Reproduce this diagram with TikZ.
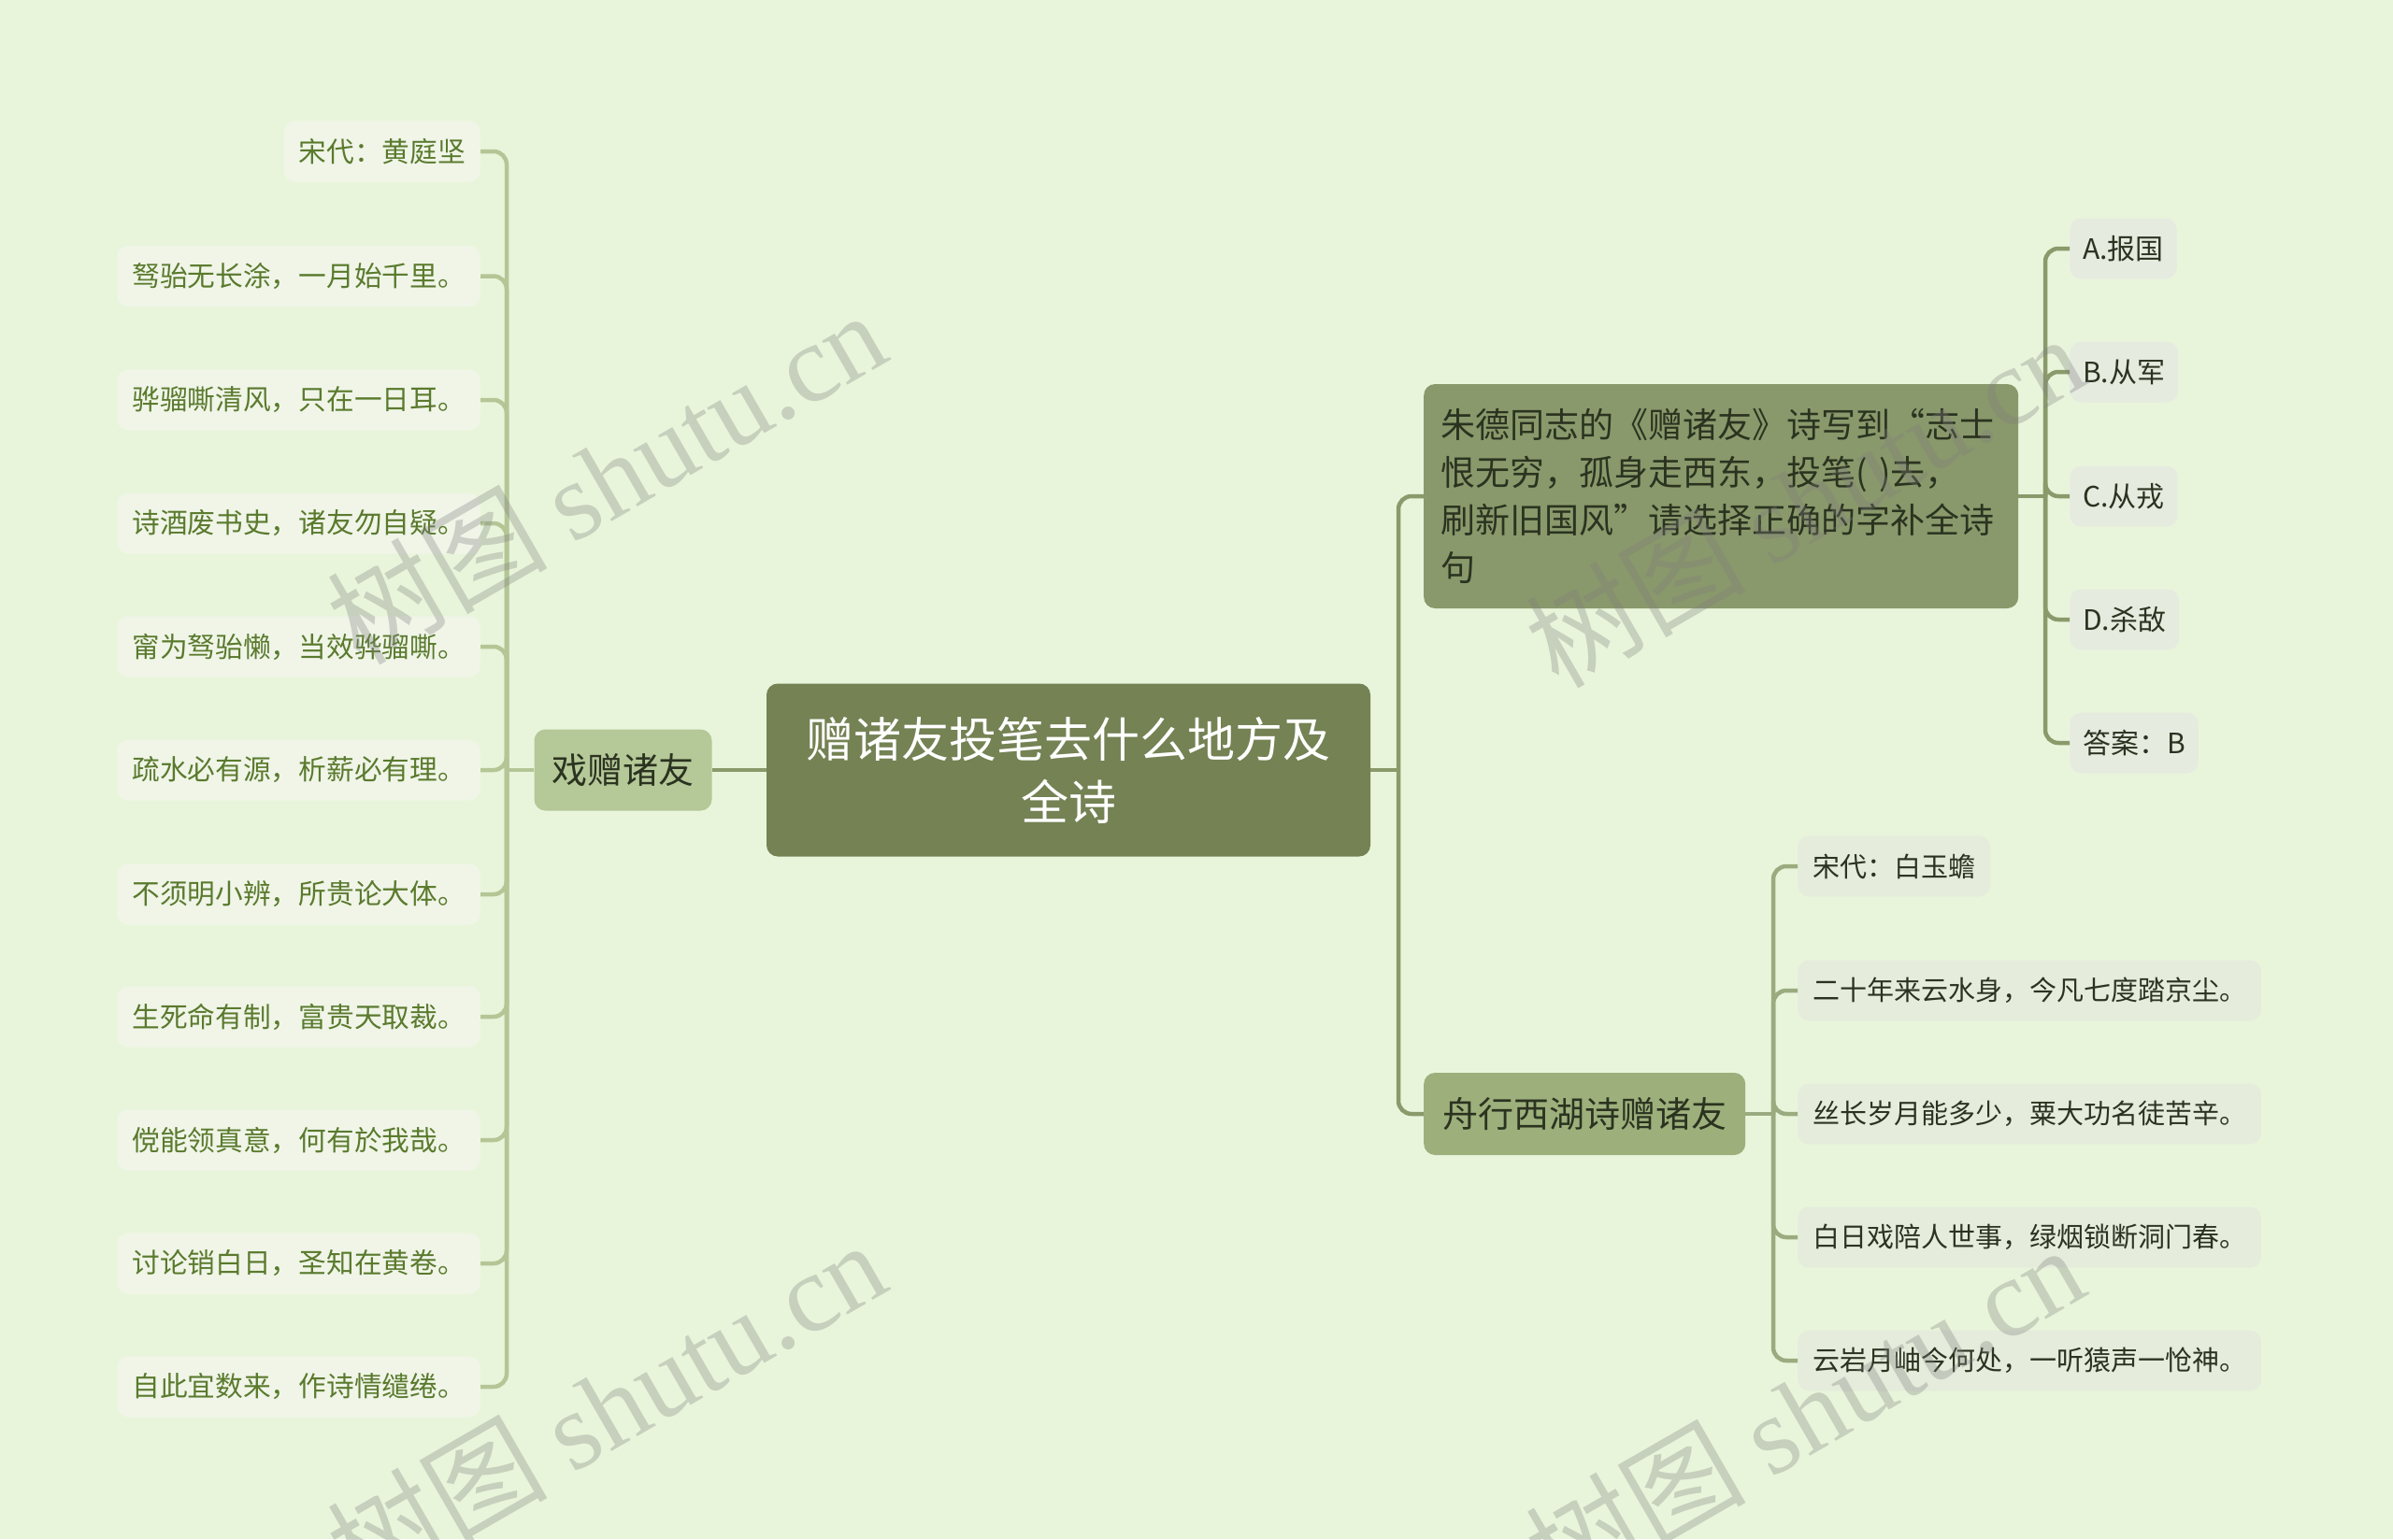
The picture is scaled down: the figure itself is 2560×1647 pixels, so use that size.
\documentclass[tikz,border=0pt]{standalone}
\usepackage{fontspec}
\setmainfont{Noto Sans CJK SC}
\newfontfamily\wmlatin{Liberation Serif}
\definecolor{bgc}{HTML}{E9F5DB}
\definecolor{rootc}{HTML}{748254}
\definecolor{xzc}{HTML}{B5C898}
\definecolor{leafLc}{HTML}{F0F5E8}
\definecolor{leafLt}{HTML}{5A7A2D}
\definecolor{lineLc}{HTML}{B5C696}
\definecolor{qc}{HTML}{8A996B}
\definecolor{lineRc}{HTML}{8A9A6B}
\definecolor{lineZc}{HTML}{9AAC7F}
\definecolor{optc}{HTML}{E6EBE0}
\definecolor{zxc}{HTML}{9DB07C}
\definecolor{zchc}{HTML}{E5ECDB}
\definecolor{darkt}{HTML}{2B3320}
\begin{document}
\begin{tikzpicture}[x=1pt,y=-1pt,
  boxbase/.style={rounded corners=12pt, inner ysep=0pt, align=center},
  rootbox/.style={boxbase, fill=rootc, text=white, minimum width=646pt, minimum height=185pt, font=\fontsize{51}{67}\selectfont},
  xzbox/.style={boxbase, fill=xzc, text=darkt, inner xsep=19pt, minimum height=87pt, font=\fontsize{38}{46}\selectfont},
  zxbox/.style={boxbase, fill=zxc, text=darkt, inner xsep=20pt, minimum height=88pt, font=\fontsize{38}{46}\selectfont},
  qbox/.style={boxbase, fill=qc, text=darkt, inner xsep=18pt, inner ysep=18pt, text width=600pt, align=left, minimum height=240pt, font=\fontsize{37}{51}\selectfont},
  leafL/.style={boxbase, fill=leafLc, text=leafLt, inner xsep=16pt, minimum height=65pt, font=\fontsize{29.7}{35}\selectfont, anchor=east},
  optbox/.style={boxbase, fill=optc, text=darkt, inner xsep=14pt, minimum height=65pt, font=\fontsize{30}{36}\selectfont, anchor=west},
  zchbox/.style={boxbase, fill=zchc, text=darkt, inner xsep=16pt, minimum height=65pt, font=\fontsize{29}{35}\selectfont, anchor=west},
  lineL/.style={draw=lineLc, line width=4.5pt},
  lineR/.style={draw=lineRc, line width=4.5pt},
  lineZ/.style={draw=lineZc, line width=4.5pt},
  wm/.style={text=gray, text opacity=0.32, font=\fontsize{118}{120}\selectfont, rotate=30}
]
\useasboundingbox (0,0) rectangle (2560,1647);
\fill[bgc] (0,0) rectangle (2560,1647);

% main nodes
\node[rootbox] (root) at (1143,824) {赠诸友投笔去什么地方及\\全诗};
\node[xzbox] (xz) at (666.5,824) {戏赠诸友};
\node[qbox, anchor=west] (q) at (1523,531) {朱德同志的《赠诸友》诗写到“志士\\恨无穷，孤身走西东，投笔(~)去，\\刷新旧国风”请选择正确的字补全诗\\句};
\node[zxbox, anchor=west] (zx) at (1523,1192) {舟行西湖诗赠诸友};

% spines
\coordinate (lsp) at (542,824);
\coordinate (rsp) at (1496,824);
\coordinate (qsp) at (2188,531);
\coordinate (zsp) at (1897,1192);

\draw[lineL] (xz.west) -- (lsp);
\draw[lineR] (root.west) -- (xz.east);
\draw[lineR] (root.east) -- (rsp);
\draw[lineR, rounded corners=14pt] (rsp) |- (q.west);
\draw[lineR, rounded corners=14pt] (rsp) |- (zx.west);
\draw[lineR] (q.east) -- (qsp);
\draw[lineZ] (zx.east) -- (zsp);

% left leaves
\foreach \t/\y [count=\i] in {宋代：黄庭坚/162, 驽骀无长涂，一月始千里。/295.5, 骅骝嘶清风，只在一日耳。/428, 诗酒废书史，诸友勿自疑。/560, 甯为驽骀懒，当效骅骝嘶。/692, 疏水必有源，析薪必有理。/824, 不须明小辨，所贵论大体。/957, 生死命有制，富贵天取裁。/1088, 傥能领真意，何有於我哉。/1220, 讨论销白日，圣知在黄卷。/1352, 自此宜数来，作诗情缱绻。/1484}{
  \node[leafL] (l\i) at (514,\y) {\t};
  \draw[lineL, rounded corners=14pt] (lsp) |- (l\i.east);
}

% options
\foreach \t/\y [count=\i] in {A.报国/266, B.从军/398, C.从戎/531, D.杀敌/663, 答案：B/795}{
  \node[optbox] (o\i) at (2214,\y) {\t};
  \draw[lineR, rounded corners=14pt] (qsp) |- (o\i.west);
}

% zx children
\foreach \t/\y [count=\i] in {宋代：白玉蟾/927, 二十年来云水身，今凡七度踏京尘。/1060, 丝长岁月能多少，粟大功名徒苦辛。/1192, 白日戏陪人世事，绿烟锁断洞门春。/1324, 云岩月岫今何处，一听猿声一怆神。/1456}{
  \node[zchbox] (z\i) at (1923,\y) {\t};
  \draw[lineZ, rounded corners=14pt] (zsp) |- (z\i.west);
}

% watermarks
\node[wm] (w1) at (648,510) {树图 {\wmlatin shutu.cn}};
\node[wm] (w2) at (648,1505) {树图 {\wmlatin shutu.cn}};
\node[wm] (w3) at (1930,535) {树图 {\wmlatin shutu.cn}};
\node[wm] (w4) at (1930,1510) {树图 {\wmlatin shutu.cn}};
\end{tikzpicture}
\end{document}
